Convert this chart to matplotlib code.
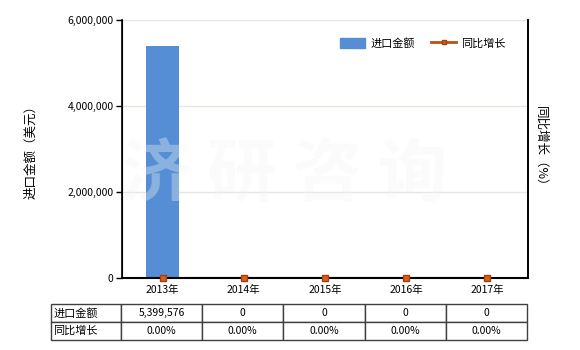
import matplotlib
matplotlib.use("Agg")
import matplotlib.pyplot as plt
from matplotlib.lines import Line2D
import numpy as np

plt.rcParams["font.family"] = ["Noto Sans CJK SC", "DejaVu Sans"]
plt.rcParams["font.size"] = 7.5

# data
years = ["2013年", "2014年", "2015年", "2016年", "2017年"]
import_value = [5399576, 0, 0, 0, 0]
yoy_growth = [0.0, 0.0, 0.0, 0.0, 0.0]
value_labels = ["5,399,576", "0", "0", "0", "0"]
growth_labels = ["0.00%", "0.00%", "0.00%", "0.00%", "0.00%"]
row_names = ["进口金额", "同比增长"]

bar_color = "#558ed5"
line_color = "#c0500e"

W, H = 580, 350
fig = plt.figure(figsize=(W / 100, H / 100), dpi=100)
ax = fig.add_axes([122 / W, 1 - 278 / H, (528 - 122) / W, (278 - 20) / H])

x = np.arange(len(years))
bars = ax.bar(x, import_value, width=0.4, color=bar_color, zorder=2)
ax.set_xlim(-0.5, len(years) - 0.5)
ax.set_ylim(0, 6000000)
ax.set_yticks([0, 2000000, 4000000, 6000000])
ax.yaxis.set_major_formatter(matplotlib.ticker.FuncFormatter(lambda v, p: f"{int(v):,}"))
ax.set_xticks(x)
ax.set_xticklabels(years)
ax.tick_params(axis="x", length=0, pad=5)
ax.tick_params(axis="y", length=4, width=1, pad=2)
ax.grid(axis="y", color="#e6e6dc", linewidth=1, zorder=0)
ax.spines["top"].set_visible(False)
for s in ["left", "bottom", "right"]:
    ax.spines[s].set_linewidth(1.2)
ax.set_ylabel("进口金额（美元）", fontsize=9, labelpad=22)

ax2 = ax.twinx()
ax2.plot(x, yoy_growth, color=line_color, linewidth=1.5, zorder=1)
ax2.plot(x, yoy_growth, linestyle="none", marker="s", markersize=4,
         markerfacecolor="#d9601a", markeredgecolor="#a0400a", zorder=5, clip_on=False)
ax2.set_ylim(0, 1)
ax2.set_yticks([])
ax2.spines["top"].set_visible(False)
ax2.spines["right"].set_linewidth(1.2)
ax2.spines["bottom"].set_linewidth(1.5)
ax2.spines["bottom"].set_zorder(3)
ax2.set_ylabel("同比增长（%）", fontsize=9, rotation=270, labelpad=14)

# watermark
fig.text(285 / W, 1 - 175 / H, "济 研 咨 询", fontsize=50, fontweight="bold",
         color="#f2f4f2", alpha=0.35, ha="center", va="center", zorder=10)

handles = [matplotlib.patches.Patch(color=bar_color),
           Line2D([], [], color=line_color, linewidth=2, marker="s", markersize=3.5,
                  markerfacecolor="#d9601a", markeredgecolor="#a0400a")]
ax2.legend(handles, row_names, loc="upper right", bbox_to_anchor=(0.97, 0.97),
           ncol=2, frameon=False, handlelength=2.2, handleheight=1.0,
           columnspacing=1.5, handletextpad=0.5, fontsize=8)

# table
tax = fig.add_axes([51 / W, 1 - 340 / H, (527 - 51) / W, 36 / H])
tax.axis("off")
cells = [[row_names[0]] + value_labels, [row_names[1]] + growth_labels]
hw = 70.0
cw = (527 - 51 - hw) / len(years)
widths = [hw / (527 - 51)] + [cw / (527 - 51)] * len(years)
tbl = tax.table(cellText=cells, colWidths=widths, bbox=[0, 0, 1, 1], cellLoc="center")
tbl.auto_set_font_size(False)
tbl.set_fontsize(7.5)
for (r, c), cell in tbl.get_celld().items():
    cell.set_edgecolor("#404040")
    cell.set_linewidth(1)
    if c == 0:
        cell.set_text_props(ha="left", fontsize=8)
        cell.PAD = 0.03

fig.savefig("out.png", dpi=100)
